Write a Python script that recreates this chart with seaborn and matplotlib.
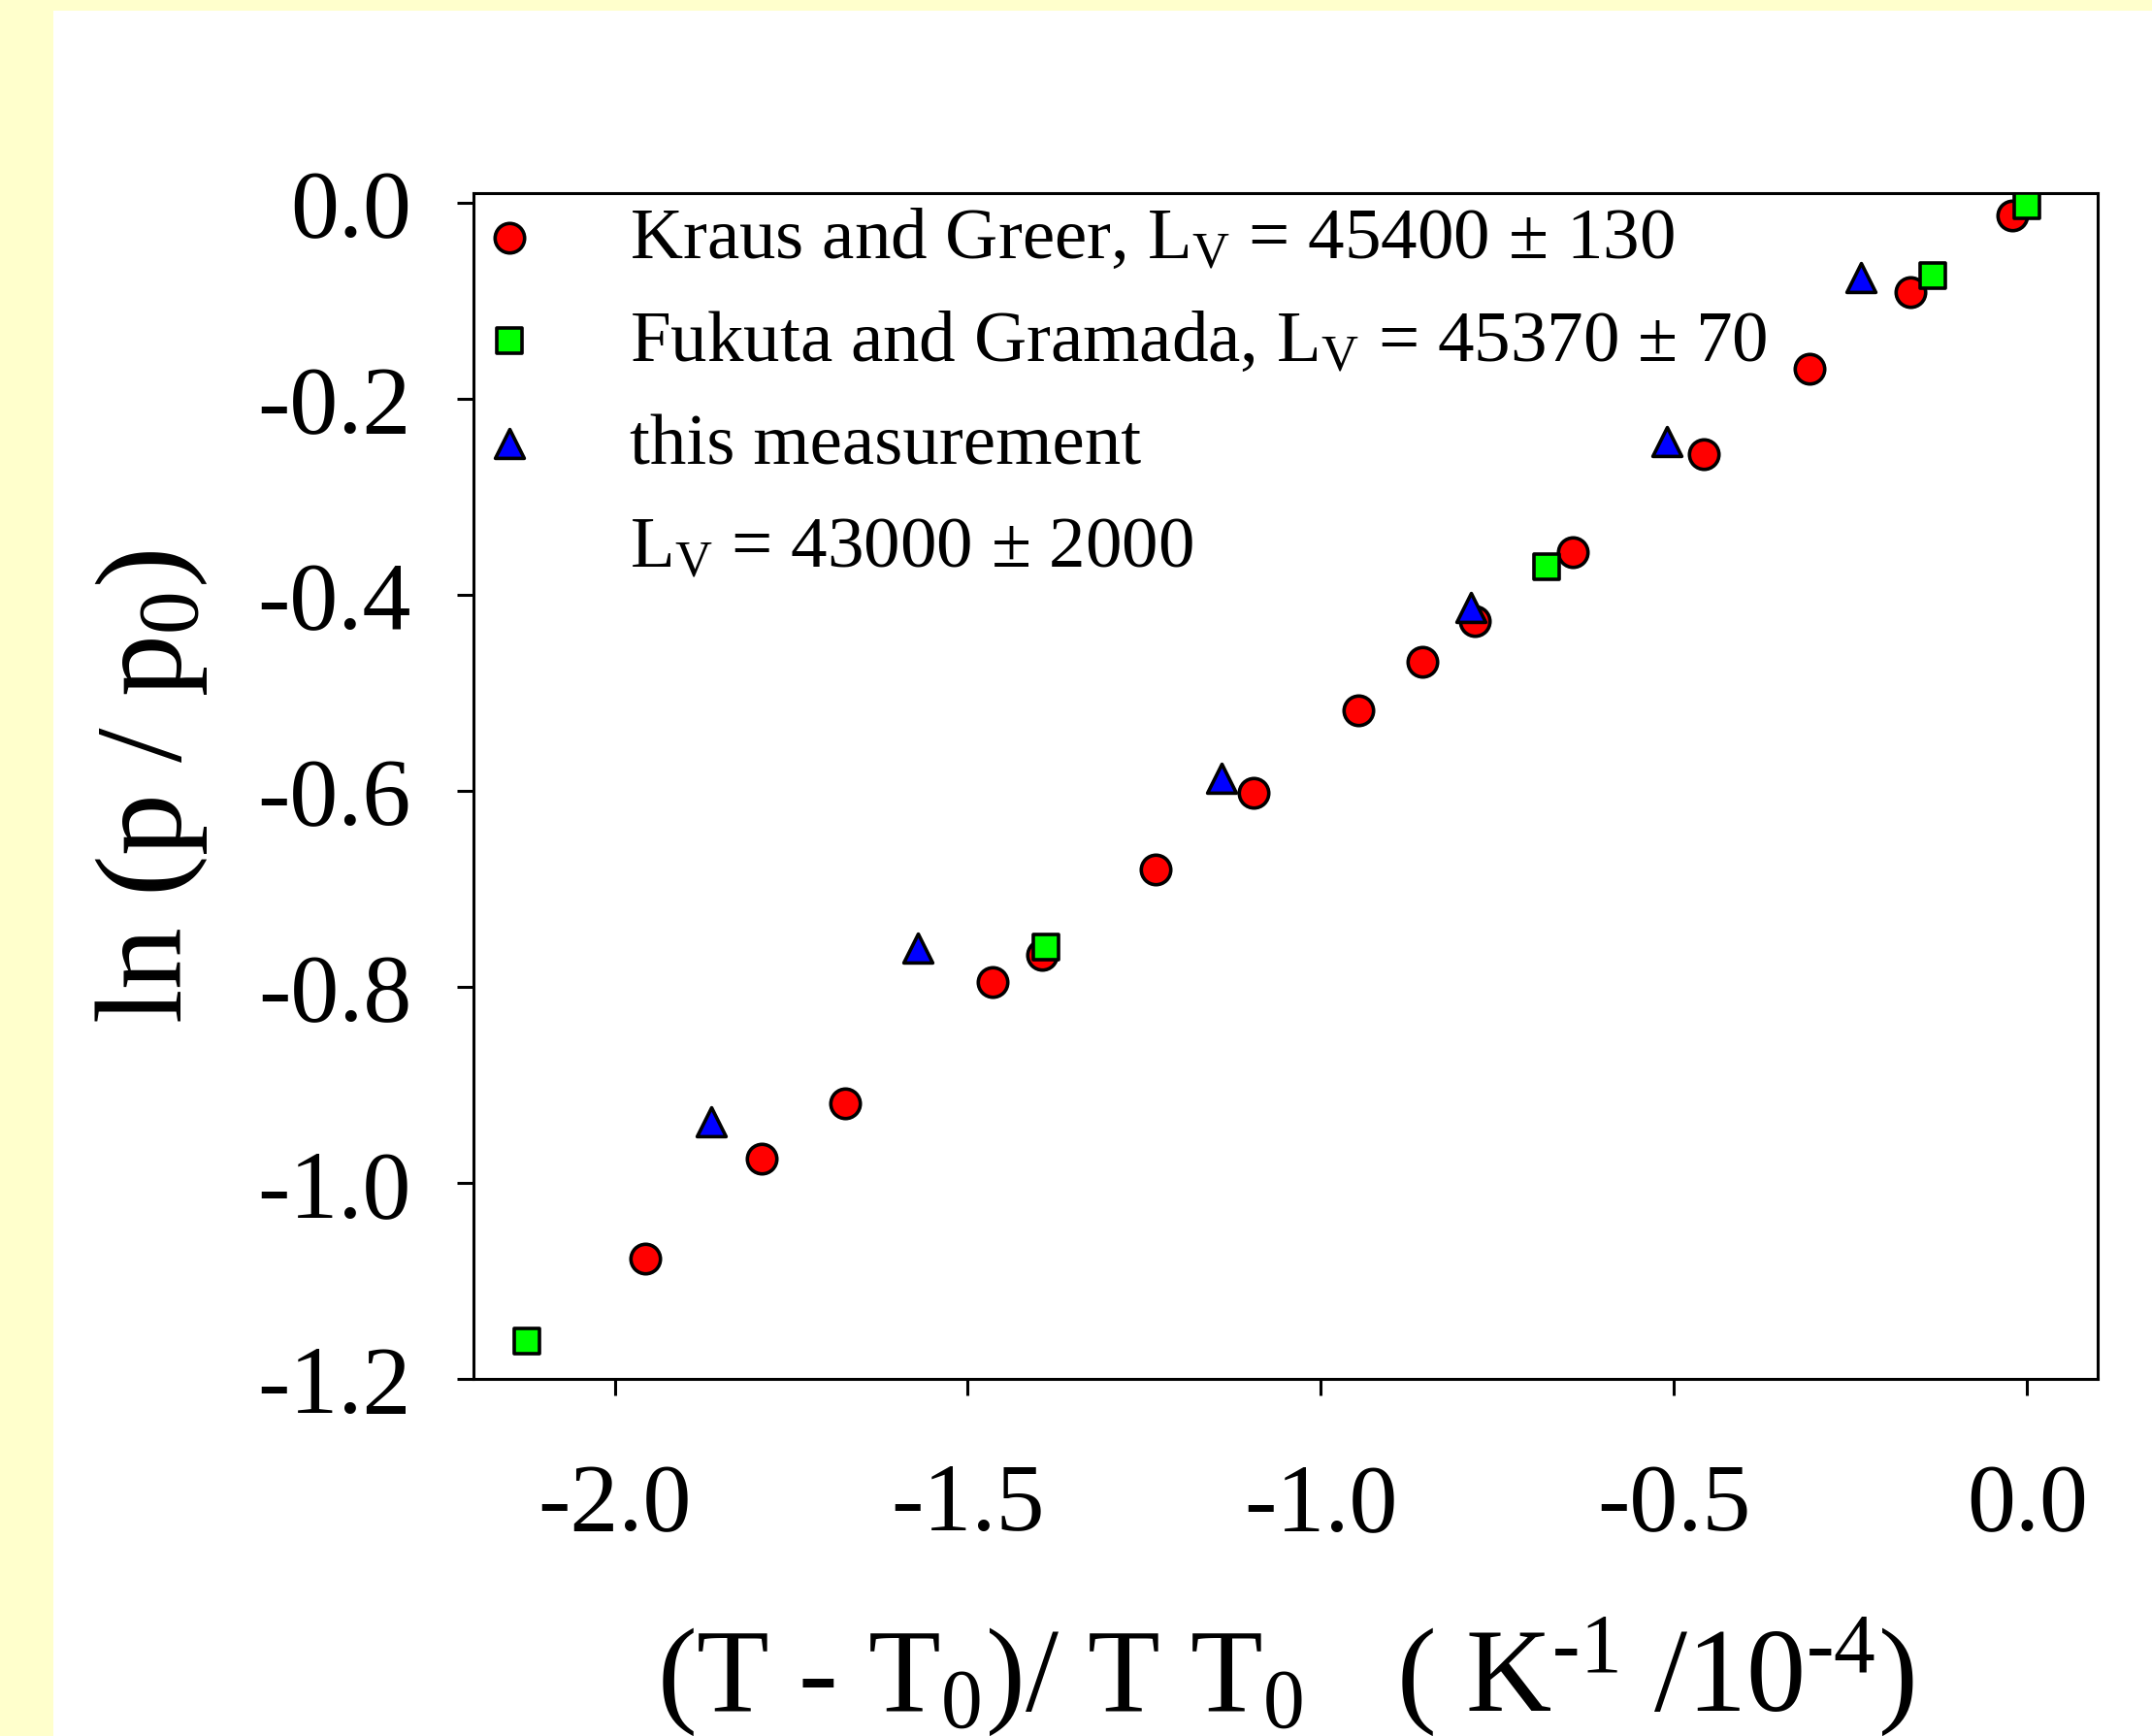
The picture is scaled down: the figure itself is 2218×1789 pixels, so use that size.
import matplotlib
matplotlib.use("Agg")
import matplotlib.pyplot as plt
from matplotlib.patches import Rectangle
from matplotlib.lines import Line2D
import seaborn as sns

# Kraus and Greer
kg_x = [-1.957, -1.792, -1.674, -1.465, -1.395, -1.234, -1.096, -0.947, -0.857,
        -0.782, -0.644, -0.458, -0.308, -0.165, -0.021]
kg_y = [-1.077, -0.975, -0.919, -0.795, -0.767, -0.680, -0.602, -0.518, -0.468,
        -0.427, -0.356, -0.256, -0.169, -0.091, -0.013]

# Fukuta and Gramada
fg_x = [-2.124, -1.389, -0.681, -0.134, 0.0]
fg_y = [-1.161, -0.759, -0.371, -0.074, -0.003]

# this measurement
tm_x = [-1.864, -1.571, -1.141, -0.788, -0.510, -0.235]
tm_y = [-0.938, -0.760, -0.587, -0.413, -0.244, -0.076]

labels = [r"Kraus and Greer, L$_\mathrm{V}$ = 45400 ± 130",
          r"Fukuta and Gramada, L$_\mathrm{V}$ = 45370 ± 70",
          "this measurement",
          r"L$_\mathrm{V}$ = 43000 ± 2000"]

x_ticks = [-2.0, -1.5, -1.0, -0.5, 0.0]
y_ticks = [0.0, -0.2, -0.4, -0.6, -0.8, -1.0, -1.2]

sns.set_style("ticks")
plt.rcParams['font.family'] = ['Liberation Serif', 'DejaVu Serif']
plt.rcParams['mathtext.fontset'] = 'custom'
plt.rcParams['mathtext.rm'] = 'Liberation Serif'
plt.rcParams['mathtext.it'] = 'Liberation Serif:italic'
plt.rcParams['axes.unicode_minus'] = False
plt.rcParams['text.color'] = 'black'
plt.rcParams['axes.labelcolor'] = 'black'

fig = plt.figure(figsize=(11.09, 8.95), dpi=200)
fig.patch.set_facecolor('#FFFFCC')
fig.patches.append(Rectangle((55 / 2218, 0), 1, 1 - 12 / 1790, transform=fig.transFigure,
                             facecolor='white', edgecolor='none', zorder=-5))
ax = fig.add_axes([0.2200, 0.2056, 0.7548, 0.6827])
ax.set_facecolor('white')

sns.scatterplot(x=kg_x, y=kg_y, ax=ax, marker='o', color='#FF0000', s=120,
                edgecolor='black', linewidth=1.3, label=labels[0], zorder=3)
sns.scatterplot(x=fg_x, y=fg_y, ax=ax, marker='s', color='#00FF00', s=85,
                edgecolor='black', linewidth=1.3, label=labels[1], zorder=5)
sns.scatterplot(x=tm_x, y=tm_y, ax=ax, marker='^', color='#0000FF', s=115,
                edgecolor='black', linewidth=1.3, label=labels[2], zorder=4)

ax.set_xlim(-2.2, 0.1)
ax.set_ylim(-1.2, 0.01)
ax.set_xticks(x_ticks)
ax.set_xticklabels([f"{v:.1f}" for v in x_ticks])
ax.set_yticks(y_ticks)
ax.set_yticklabels([f"{v:.1f}" for v in y_ticks])
ax.tick_params(axis='both', direction='out', length=6, width=1.1, labelsize=36,
               colors='black', top=False, right=False)
ax.tick_params(axis='x', pad=25)
ax.tick_params(axis='y', pad=17)
for sp in ax.spines.values():
    sp.set_visible(True)
    sp.set_linewidth(1.1)
    sp.set_color('black')

ax.set_xlabel(r"(T - T$_0$)/ T T$_0$   ( K$^{\text{-1}}$ /10$^{\text{-4}}$)", fontsize=44, labelpad=24)
ax.set_ylabel(r"ln (p / p$_0$)", fontsize=46, labelpad=18)

handles, _ = ax.get_legend_handles_labels()
handles.append(Line2D([], [], linestyle='none', marker=None))
ax.legend(handles=handles, labels=labels, loc='upper left', bbox_to_anchor=(0, 0.995),
          frameon=False, fontsize=27, borderaxespad=0, borderpad=0.1,
          handlelength=0.8, handletextpad=1.25, labelspacing=0.5)

fig.savefig("out.png", dpi=200, facecolor=fig.get_facecolor())
